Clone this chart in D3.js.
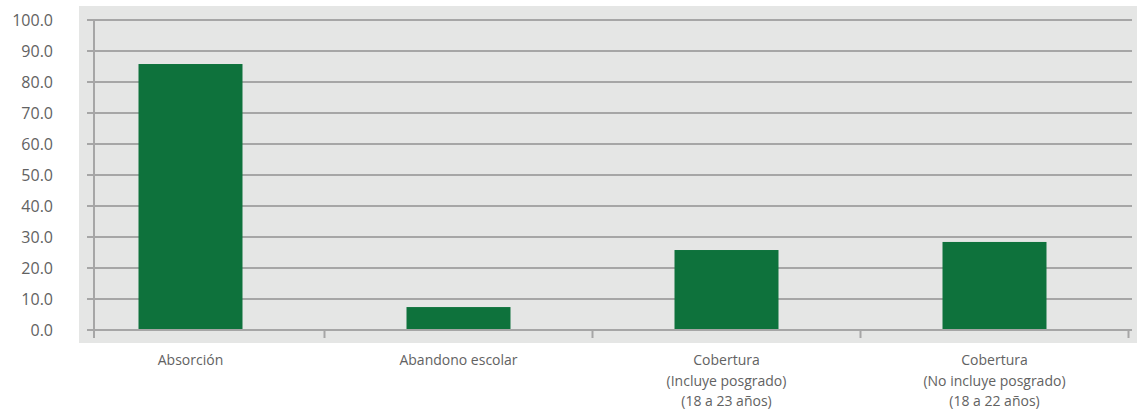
<!DOCTYPE html>
<html>
<head>
<meta charset="utf-8">
<script src="https://cdn.jsdelivr.net/npm/d3@7"></script>
<style>
  html, body { margin: 0; padding: 0; background: #ffffff; }
  svg { display: block; }
  text { font-family: "Open Sans", "Noto Sans", sans-serif; fill: #626262; }
</style>
</head>
<body>
<svg id="chart" width="1137" height="411"></svg>
<script>
const categories = [
  ["Absorción"],
  ["Abandono escolar"],
  ["Cobertura", "(Incluye posgrado)", "(18 a 23 años)"],
  ["Cobertura", "(No incluye posgrado)", "(18 a 22 años)"]
];
const values = [85.8, 7.4, 25.8, 28.4];
const yTicks = [0, 10, 20, 30, 40, 50, 60, 70, 80, 90, 100];

const svg = d3.select("#chart");
const W = 1137, H = 411;

// plot panel
svg.append("rect")
  .attr("x", 79).attr("y", 6)
  .attr("width", W - 79).attr("height", 337)
  .attr("fill", "#e5e6e5");

const keys = categories.map((c, i) => i);
const x = d3.scaleBand()
  .domain(keys)
  .range([56.5, 56.5 + 4 * 268])
  .paddingInner(0.612)
  .paddingOuter(0.306);

const y = d3.scaleLinear().domain([0, 100]).range([330, 20]);

const gridColor = "#a6a6a6";
const axisX0 = 94, gridX0 = 87, gridX1 = 1132;

// gridlines
svg.append("g").selectAll("line")
  .data(yTicks)
  .join("line")
  .attr("x1", gridX0).attr("x2", gridX1)
  .attr("y1", d => y(d)).attr("y2", d => y(d))
  .attr("stroke", gridColor).attr("stroke-width", 2);

// y axis labels
svg.append("g").selectAll("text")
  .data(yTicks)
  .join("text")
  .attr("x", 53).attr("y", d => y(d))
  .attr("dy", "0.36em")
  .attr("text-anchor", "end")
  .attr("font-size", 16)
  .text(d => d3.format(".1f")(d));

// bars
svg.append("g").selectAll("rect")
  .data(values)
  .join("rect")
  .attr("x", (d, i) => x(i))
  .attr("width", x.bandwidth())
  .attr("y", d => y(d))
  .attr("height", d => y(0) - y(d))
  .attr("fill", "#0e723c");

// y axis line
svg.append("line")
  .attr("x1", axisX0).attr("x2", axisX0)
  .attr("y1", y(100)).attr("y2", y(0) + 8)
  .attr("stroke", gridColor).attr("stroke-width", 2);

// x axis line (over bars)
svg.append("line")
  .attr("x1", gridX0).attr("x2", gridX1)
  .attr("y1", y(0)).attr("y2", y(0))
  .attr("stroke", gridColor).attr("stroke-width", 2);

// x ticks at category boundaries
const step = x.step();
const bounds = keys.slice(1).map(k => x(k) + x.bandwidth() / 2 - step / 2);
bounds.push(x(keys[keys.length - 1]) + x.bandwidth() / 2 + step / 2);
svg.append("g").selectAll("line")
  .data(bounds)
  .join("line")
  .attr("x1", d => d).attr("x2", d => d)
  .attr("y1", y(0)).attr("y2", y(0) + 8)
  .attr("stroke", gridColor).attr("stroke-width", 2);

// x labels
const lab = svg.append("g").selectAll("text")
  .data(categories)
  .join("text")
  .attr("text-anchor", "middle")
  .attr("font-size", 14);
lab.each(function(lines, i) {
  const t = d3.select(this);
  lines.forEach((ln, j) => {
    t.append("tspan")
      .attr("x", x(i) + x.bandwidth() / 2)
      .attr("y", 365 + j * 20.5)
      .text(ln);
  });
});
</script>
</body>
</html>
